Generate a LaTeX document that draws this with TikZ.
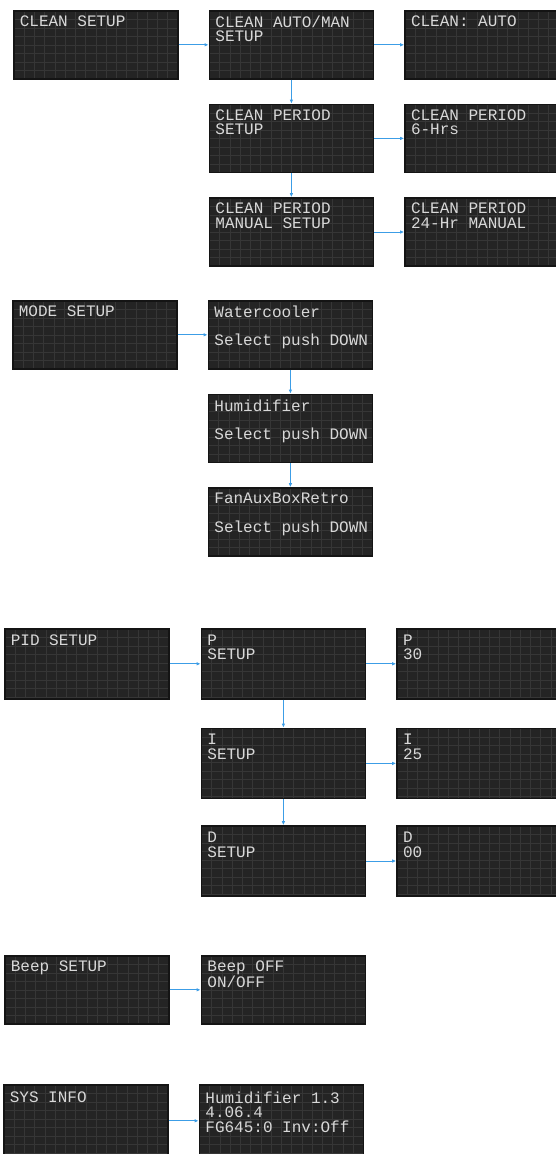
\documentclass[tikz,border=0pt]{standalone}
\usepackage{fontspec}
\setmonofont{Liberation Mono}
\usepackage{xcolor}
\usetikzlibrary{arrows.meta,positioning}
\definecolor{lcdbg}{HTML}{242424}
\definecolor{lcdgrid}{HTML}{363636}
\definecolor{lcdtxt}{HTML}{D8D8D8}
\definecolor{menublue}{HTML}{3C9DE6}
\newcommand{\lcdtext}[1]{\hspace*{6pt}\parbox[c][58pt][t]{158pt}{\raggedright #1}}

\begin{document}
\begin{tikzpicture}[
  x=1pt, y=1pt,
  node distance=24pt and 30pt,
  lcd/.style={draw=black!92, line width=1.6pt, fill=lcdbg, inner xsep=0pt, inner ysep=5pt,
    font=\ttfamily\fontsize{16}{14.5}\selectfont, text=lcdtxt,
    path picture={
      \foreach \k in {1,...,15}
        \draw[lcdgrid, line width=0.5pt] ([xshift=\k*10.25pt]path picture bounding box.north west) -- ([xshift=\k*10.25pt]path picture bounding box.south west);
      \foreach \k in {1,...,8}
        \draw[lcdgrid, line width=0.5pt] ([yshift=-\k*8.5pt]path picture bounding box.north west) -- ([yshift=-\k*8.5pt]path picture bounding box.north east);
    }},
  ar/.style={-{Latex[length=4pt,width=3.5pt]}, menublue, line width=0.9pt}]
  \useasboundingbox (0,0) rectangle (556,-1154);
  \clip (0,0) rectangle (556,-1154);
  \node[lcd, anchor=north west] (clean) at (13,-10) {\lcdtext{CLEAN SETUP}};
  \node[lcd, right=of clean] (cleanam) {\lcdtext{CLEAN AUTO/MAN\\SETUP}};
  \node[lcd, right=of cleanam] (cleanauto) {\lcdtext{CLEAN: AUTO}};
  \node[lcd, below=of cleanam] (cleanper) {\lcdtext{CLEAN PERIOD\\SETUP}};
  \node[lcd, right=of cleanper] (cleansix) {\lcdtext{CLEAN PERIOD\\6-Hrs}};
  \node[lcd, below=of cleanper] (cleanman) {\lcdtext{CLEAN PERIOD\\MANUAL SETUP}};
  \node[lcd, right=of cleanman] (cleanday) {\lcdtext{CLEAN PERIOD\\24-Hr MANUAL}};
  \draw[ar] (clean) -- (cleanam);
  \draw[ar] (cleanam) -- (cleanauto);
  \draw[ar] (cleanam) -- (cleanper);
  \draw[ar] (cleanper) -- (cleansix);
  \draw[ar] (cleanper) -- (cleanman);
  \draw[ar] (cleanman) -- (cleanday);

  \node[lcd, anchor=north west] (mode) at (12,-300) {\lcdtext{MODE SETUP}};
  \node[lcd, right=of mode] (water) {\lcdtext{Watercooler\\[14pt]Select push DOWN}};
  \node[lcd, below=of water] (humid) {\lcdtext{Humidifier\\[14pt]Select push DOWN}};
  \node[lcd, below=of humid] (fanaux) {\lcdtext{FanAuxBoxRetro\\[14pt]Select push DOWN}};
  \draw[ar] (mode) -- (water);
  \draw[ar] (water) -- (humid);
  \draw[ar] (humid) -- (fanaux);

  \node[lcd, inner ysep=6pt, anchor=north west] (pid) at (4,-628) {\lcdtext{PID SETUP}};
  \node[lcd, inner ysep=6pt, right=31pt of pid] (psetup) {\lcdtext{P\\SETUP}};
  \node[lcd, inner ysep=6pt, right=of psetup] (pval) {\lcdtext{P\\30}};
  \node[lcd, inner ysep=6pt, below=28pt of psetup] (isetup) {\lcdtext{I\\SETUP}};
  \node[lcd, inner ysep=6pt, right=of isetup] (ival) {\lcdtext{I\\25}};
  \node[lcd, inner ysep=6pt, below=26pt of isetup] (dsetup) {\lcdtext{D\\SETUP}};
  \node[lcd, inner ysep=6pt, right=of dsetup] (dval) {\lcdtext{D\\00}};
  \draw[ar] (pid) -- (psetup);
  \draw[ar] (psetup) -- (pval);
  \draw[ar] (psetup) -- (isetup);
  \draw[ar] (isetup) -- (ival);
  \draw[ar] (isetup) -- (dsetup);
  \draw[ar] (dsetup) -- (dval);

  \node[lcd, anchor=north west] (beep) at (4,-955) {\lcdtext{Beep SETUP}};
  \node[lcd, right=31pt of beep] (beepoff) {\lcdtext{Beep OFF\\ON/OFF}};
  \draw[ar] (beep) -- (beepoff);

  \node[lcd, inner ysep=7pt, anchor=north west] (sys) at (3,-1084) {\lcdtext{SYS INFO}};
  \node[lcd, inner ysep=7pt, right=of sys] (sysver) {\lcdtext{Humidifier 1.3\\4.06.4\\FG645:0 Inv:Off}};
  \draw[ar] (sys) -- (sysver);
\end{tikzpicture}
\end{document}
